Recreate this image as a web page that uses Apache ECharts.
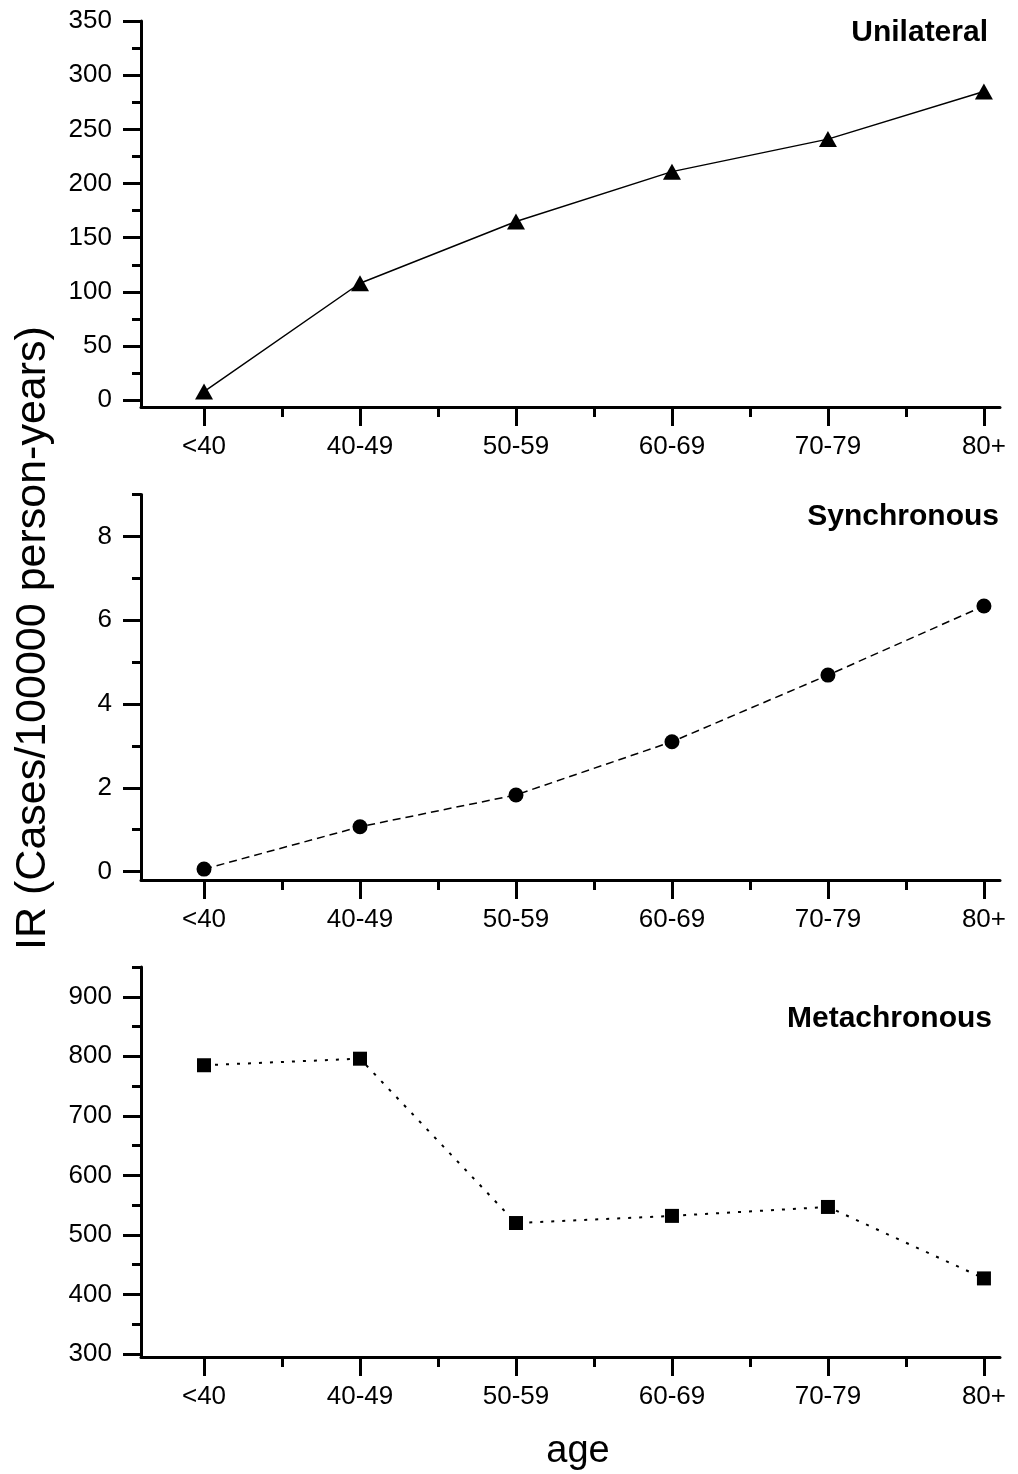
<!DOCTYPE html>
<html><head><meta charset="utf-8">
<script src="https://cdn.jsdelivr.net/npm/echarts@6/dist/echarts.min.js"></script>
<style>html,body{margin:0;padding:0;background:#fff}#c{width:1018px;height:1474px}</style>
</head><body><div id="c"></div>
<script>
const categories = ['<40','40-49','50-59','60-69','70-79','80+'];
const unilateral = [8,108,165,211,241,285];
const synchronous = [0.06,1.07,1.83,3.1,4.69,6.34];
const metachronous = [785,796,520,532,547,427];
const uniTicks = [0,50,100,150,200,250,300,350];
const uniMinor = [25,75,125,175,225,275,325];
const synTicks = [0,2,4,6,8];
const synMinor = [1,3,5,7,9];
const metTicks = [300,400,500,600,700,800,900];
const metMinor = [350,450,550,650,750,850,950];
const xMajor = [1,2,3,4,5,6];
const xMinor = [1.5,2.5,3.5,4.5,5.5];
const panelNames = ['Unilateral','Synchronous','Metachronous'];

const FONT = 'Liberation Sans, Arial, sans-serif';
const panels = [
  {top:21, height:386, ymin:-6.2, ymax:350, major:uniTicks, minor:uniMinor, data:unilateral, symbol:'triangle', size:[18,16], dash:'solid', lw:1.5, title:panelNames[0], tx:988, ty:33},
  {top:494.5, height:385.5, ymin:-0.2, ymax:9, major:synTicks, minor:synMinor, data:synchronous, symbol:'circle', size:15, dash:[8,5], lw:1.5, title:panelNames[1], tx:999, ty:517},
  {top:967, height:390, ymin:295, ymax:950, major:metTicks, minor:metMinor, data:metachronous, symbol:'rect', size:14, dash:[3,8], lw:2, title:panelNames[2], tx:992, ty:1019}
];
const grid=[], xAxis=[], yAxis=[], series=[], graphic=[];
const lineSt = {color:'#000', width:3};
panels.forEach((p,i)=>{
  grid.push({left:141, right:18, top:p.top, height:p.height});
  xAxis.push({type:'value', gridIndex:i, min:0.596, max:6.103, position:'bottom',
    axisLine:{show:true,onZero:false,lineStyle:lineSt},
    axisTick:{show:true,customValues:xMajor,length:19,lineStyle:lineSt},
    axisLabel:{customValues:xMajor, formatter:v=>categories[Math.round(v)-1], margin:27, fontSize:26, color:'#000', fontFamily:FONT},
    splitLine:{show:false}});
  xAxis.push({type:'value', gridIndex:i, min:0.596, max:6.103, position:'bottom',
    axisLine:{show:false,onZero:false},
    axisTick:{show:true,customValues:xMinor,length:10,lineStyle:lineSt},
    axisLabel:{show:false}, splitLine:{show:false}});
  yAxis.push({type:'value', gridIndex:i, min:p.ymin, max:p.ymax, position:'left',
    axisLine:{show:true,onZero:false,lineStyle:lineSt},
    axisTick:{show:true,customValues:p.major,length:18,lineStyle:lineSt},
    axisLabel:{customValues:p.major, margin:29, fontSize:26, color:'#000', fontFamily:FONT},
    splitLine:{show:false}});
  yAxis.push({type:'value', gridIndex:i, min:p.ymin, max:p.ymax, position:'left',
    axisLine:{show:false,onZero:false},
    axisTick:{show:true,customValues:p.minor,length:9,lineStyle:lineSt},
    axisLabel:{show:false}, splitLine:{show:false}});
  series.push({type:'line', xAxisIndex:2*i, yAxisIndex:2*i,
    data:p.data.map((v,k)=>[k+1,v]), symbol:p.symbol, symbolSize:p.size, showSymbol:true,
    itemStyle:{color:'#000'}, lineStyle:{color:'#000', width:p.lw, type:p.dash}, z:5});
  graphic.push({type:'text', style:{text:p.title, x:p.tx, y:p.ty, align:'right', verticalAlign:'middle', fontSize:30, fontWeight:'bold', fontFamily:FONT, fill:'#000'}});
});
graphic.push({type:'text', rotation:Math.PI/2, x:33, y:638, style:{text:'IR (Cases/100000 person-years)', x:0, y:0, align:'center', verticalAlign:'middle', fontSize:43, fontFamily:FONT, fill:'#000'}});
graphic.push({type:'text', style:{text:'age', x:578, y:1452, align:'center', verticalAlign:'middle', fontSize:38, fontFamily:FONT, fill:'#000'}});

const chart = echarts.init(document.getElementById('c'), null, {renderer:'canvas'});
chart.setOption({animation:false, backgroundColor:'#fff', grid, xAxis, yAxis, series, graphic});
</script></body></html>
